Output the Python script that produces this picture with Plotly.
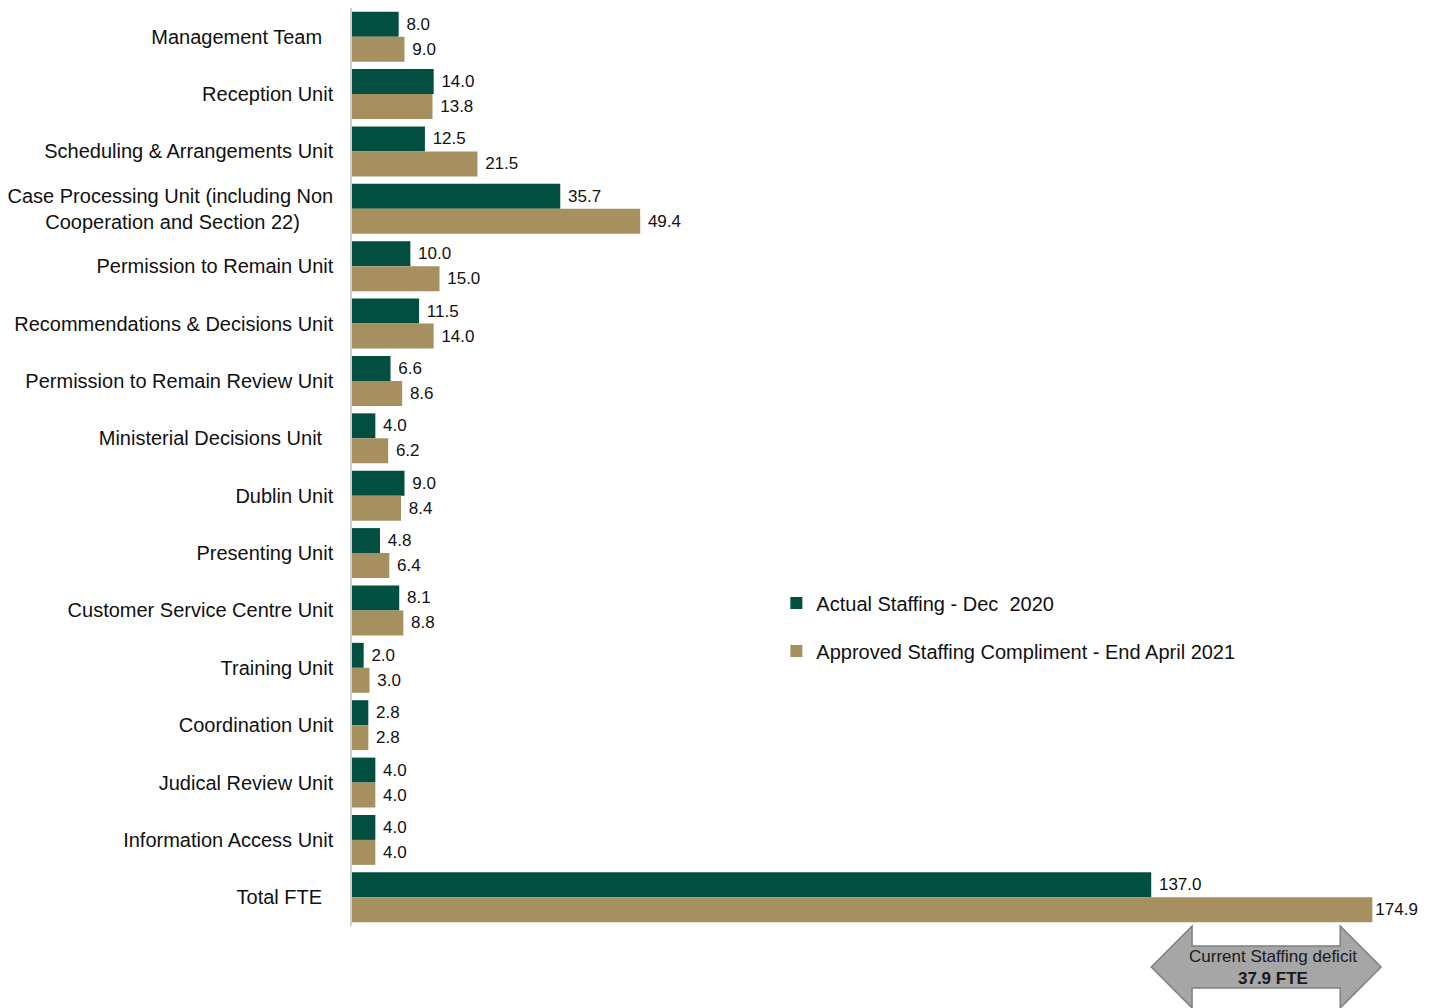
import plotly.graph_objects as go

NB = "\u00a0"
categories = [
    "Management Team" + NB * 2,
    "Reception Unit",
    "Scheduling & Arrangements Unit",
    "Case Processing Unit (including Non<br>Cooperation and Section 22)" + NB * 6,
    "Permission to Remain Unit",
    "Recommendations & Decisions Unit",
    "Permission to Remain Review Unit",
    "Ministerial Decisions Unit" + NB * 2,
    "Dublin Unit",
    "Presenting Unit",
    "Customer Service Centre Unit",
    "Training Unit",
    "Coordination Unit",
    "Judical Review Unit",
    "Information Access Unit",
    "Total FTE" + NB * 2,
]
actual = [8.0, 14.0, 12.5, 35.7, 10.0, 11.5, 6.6, 4.0, 9.0, 4.8, 8.1, 2.0, 2.8, 4.0, 4.0, 137.0]
approved = [9.0, 13.8, 21.5, 49.4, 15.0, 14.0, 8.6, 6.2, 8.4, 6.4, 8.8, 3.0, 2.8, 4.0, 4.0, 174.9]
series_names = ["Actual Staffing - Dec  2020", "Approved Staffing Compliment - End April 2021"]
colors = ["#024F41", "#A69060"]
deficit_text = "Current Staffing deficit<br><b>37.9 FTE</b>"

FONT = "Liberation Sans, Arial, sans-serif"

fig = go.Figure()
for i, (name, vals) in enumerate(zip(series_names, [actual, approved])):
    labels = [(NB if (j < len(vals) - 1 or i == 0) else "") + f"{v:.1f}" for j, v in enumerate(vals)]
    fig.add_trace(go.Bar(
        y=categories, x=vals, orientation="h", name=name,
        marker=dict(color=colors[i], line=dict(width=0)),
        text=labels,
        texttemplate="%{text}",
        textposition="outside", cliponaxis=False, constraintext="none",
        textfont=dict(family=FONT, size=17, color="#111111"),
        legendgroup=f"g{i}",
        hoverinfo="x+y",
    ))

# deficit arrow
x0, x1, x2, x3 = 137.0, 144.0, 169.4, 176.4
ym, yh0, ys0, ys1, yh1 = -0.0446, 0.0, -0.0218, -0.0675, -0.0892
path = (f"M {x0},{ym} L {x1},{yh0} L {x1},{ys0} L {x2},{ys0} L {x2},{yh0} "
        f"L {x3},{ym} L {x2},{yh1} L {x2},{ys1} L {x1},{ys1} L {x1},{yh1} Z")
fig.add_shape(type="path", path=path, xref="x", yref="paper",
              fillcolor="#A6A6A6", line=dict(color="#7F7F7F", width=1.5), layer="above")
fig.add_annotation(x=157.8, y=-0.0455, xref="x", yref="paper", text=deficit_text,
                   showarrow=False, font=dict(family=FONT, size=17, color="#1A1A1A"),
                   align="center", yanchor="middle")

fig.update_layout(
    width=1430, height=1008,
    margin=dict(l=339, r=33, t=0, b=90),
    plot_bgcolor="white", paper_bgcolor="white",
    barmode="group", bargap=0.13, bargroupgap=0,
    font=dict(family=FONT, size=20, color="#111111"),
    showlegend=True,
    legend=dict(x=0.403, y=0.373, xanchor="left", yanchor="top",
                traceorder="grouped", tracegroupgap=19,
                font=dict(family=FONT, size=20, color="#111111"),
                bgcolor="rgba(0,0,0,0)"),
    xaxis=dict(range=[0, 180.5], visible=False, showgrid=False, zeroline=False),
    yaxis=dict(autorange="reversed", showline=True, linecolor="#D0D0D0", linewidth=1.5,
               ticks="", showgrid=False, ticklabelstandoff=13,
               tickfont=dict(family=FONT, size=20, color="#111111")),
)

fig.write_html("out.html")
